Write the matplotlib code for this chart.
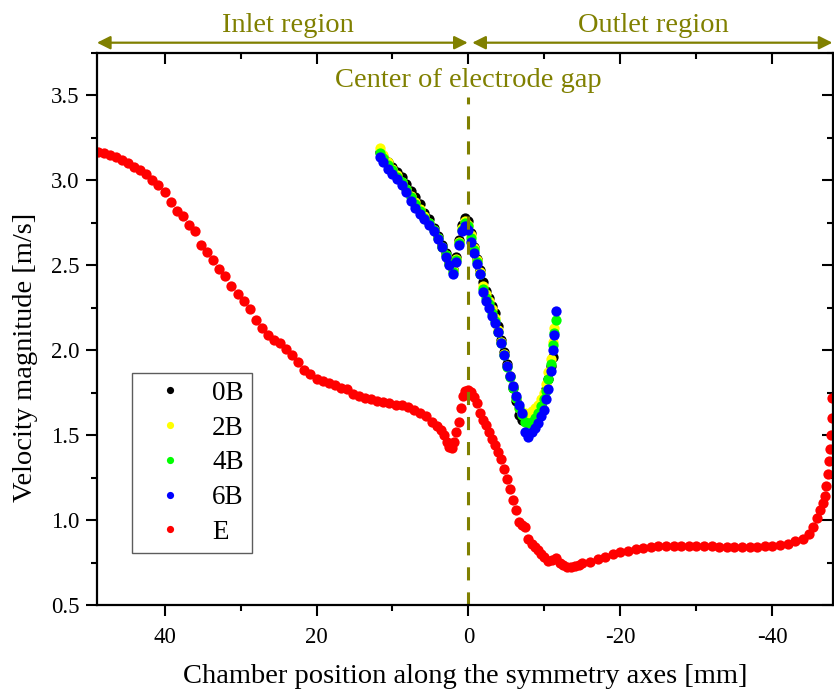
import matplotlib
matplotlib.use("Agg")
import matplotlib.pyplot as plt
from matplotlib.ticker import MultipleLocator

plt.rcParams['font.family'] = ['Liberation Serif', 'DejaVu Serif']

# positions along axis [mm] and velocity magnitude [m/s]
e_x = [48.8, 48.0, 47.2, 46.4, 45.6, 44.8, 44.0, 43.2, 42.4, 41.6,
       40.8, 40.0, 39.2, 38.4, 37.6, 36.8, 36.0, 35.2, 34.4, 33.6,
       32.8, 32.0, 31.2, 30.4, 29.6, 28.8, 28.0, 27.2, 26.4, 25.6,
       24.8, 24.0, 23.2, 22.4, 21.6, 20.8, 20.0, 19.2, 18.4, 17.6,
       16.8, 16.0, 15.2, 14.4, 13.6, 12.8, 12.0, 11.2, 10.4, 9.6,
       8.8, 8.0, 7.2, 6.4, 5.6, 4.8, 4.2, 3.6, 3.2, 2.8,
       2.5, 2.2, 1.9, 1.6, 1.3, 1.0, 0.7, 0.4, 0.1, -0.3,
       -0.7, -1.1, -1.5, -1.9, -2.3, -2.7, -3.1, -3.5, -3.9, -4.3,
       -4.7, -5.1, -5.5, -5.9, -6.3, -6.7, -7.1, -7.5, -7.9, -8.3,
       -8.7, -9.1, -9.5, -10.0, -10.5, -11.0, -11.5, -12.0, -12.5, -13.0,
       -13.5, -14.0, -14.5, -15.0, -16.0, -17.0, -18.0, -19.0, -20.0, -21.0,
       -22.0, -23.0, -24.0, -25.0, -26.0, -27.0, -28.0, -29.0, -30.0, -31.0,
       -32.0, -33.0, -34.0, -35.0, -36.0, -37.0, -38.0, -39.0, -40.0, -41.0,
       -42.0, -43.0, -44.0, -44.8, -45.4, -45.9, -46.3, -46.6, -46.9, -47.1,
       -47.3, -47.4, -47.6, -47.7, -47.8, -47.9]
e_y = [3.17, 3.16, 3.15, 3.135, 3.12, 3.10, 3.08, 3.06, 3.035, 3.005,
       2.97, 2.93, 2.87, 2.82, 2.79, 2.74, 2.70, 2.62, 2.58, 2.53,
       2.48, 2.44, 2.38, 2.33, 2.29, 2.24, 2.18, 2.13, 2.09, 2.06,
       2.04, 2.01, 1.97, 1.93, 1.885, 1.86, 1.83, 1.82, 1.81, 1.796,
       1.78, 1.77, 1.745, 1.73, 1.72, 1.71, 1.70, 1.695, 1.687, 1.68,
       1.675, 1.665, 1.65, 1.63, 1.61, 1.58, 1.555, 1.53, 1.50, 1.46,
       1.43, 1.425, 1.46, 1.52, 1.58, 1.66, 1.73, 1.76, 1.767, 1.755,
       1.725, 1.69, 1.63, 1.59, 1.56, 1.52, 1.48, 1.44, 1.40, 1.36,
       1.30, 1.24, 1.18, 1.12, 1.06, 0.99, 0.97, 0.96, 0.89, 0.86,
       0.84, 0.825, 0.80, 0.78, 0.76, 0.765, 0.775, 0.75, 0.735, 0.726,
       0.725, 0.73, 0.736, 0.745, 0.755, 0.77, 0.785, 0.80, 0.81, 0.818,
       0.828, 0.838, 0.843, 0.846, 0.848, 0.849, 0.849, 0.848, 0.847, 0.846,
       0.845, 0.844, 0.843, 0.842, 0.842, 0.842, 0.843, 0.845, 0.847, 0.853,
       0.862, 0.875, 0.89, 0.92, 0.96, 1.01, 1.06, 1.10, 1.14, 1.20,
       1.27, 1.35, 1.42, 1.50, 1.60, 1.72]

b_x = [11.7, 11.2, 10.6, 10.0, 9.4, 8.8, 8.2, 7.6, 7.0, 6.4, 5.8, 5.2, 4.6, 4.0,
       3.5, 3.0, 2.5, 2.1, 1.7, 1.3, 0.9, 0.5, 0.1, -0.3, -0.7, -1.1, -1.5, -1.9,
       -2.3, -2.7, -3.1, -3.5, -3.9, -4.3, -4.7, -5.1, -5.5, -5.9, -6.3, -6.7,
       -7.1, -7.5, -7.9, -8.3, -8.7, -9.1, -9.5, -9.9, -10.2, -10.5, -10.8, -11.1,
       -11.3, -11.5]

b0_y = [3.17, 3.14, 3.11, 3.08, 3.05, 3.02, 2.98, 2.94, 2.90, 2.86, 2.81, 2.77,
        2.72, 2.67, 2.62, 2.57, 2.52, 2.48, 2.55, 2.65, 2.74, 2.78, 2.76, 2.69,
        2.61, 2.54, 2.47, 2.40, 2.35, 2.31, 2.26, 2.22, 2.14, 2.06, 1.99, 1.92,
        1.85, 1.78, 1.70, 1.62, 1.59, 1.59, 1.60, 1.61, 1.63, 1.65, 1.68, 1.72,
        1.77, 1.83, 1.91, 1.96]
b2_y = [3.19, 3.15, 3.11, 3.07, 3.03, 2.99, 2.95, 2.91, 2.87, 2.83, 2.79, 2.75,
        2.71, 2.66, 2.61, 2.56, 2.51, 2.47, 2.54, 2.64, 2.72, 2.76, 2.74, 2.68,
        2.60, 2.53, 2.46, 2.38, 2.33, 2.29, 2.24, 2.19, 2.12, 2.05, 1.98, 1.91,
        1.85, 1.79, 1.72, 1.66, 1.63, 1.63, 1.62, 1.64, 1.66, 1.68, 1.71, 1.75,
        1.80, 1.87, 1.95, 2.05, 2.13]
b4_y = [3.16, 3.13, 3.09, 3.06, 3.02, 2.99, 2.95, 2.90, 2.86, 2.82, 2.78, 2.75,
        2.71, 2.66, 2.61, 2.56, 2.51, 2.46, 2.53, 2.63, 2.71, 2.75, 2.73, 2.66,
        2.59, 2.52, 2.45, 2.36, 2.31, 2.27, 2.22, 2.17, 2.11, 2.04, 1.97, 1.90,
        1.84, 1.78, 1.72, 1.66, 1.62, 1.58, 1.57, 1.58, 1.60, 1.63, 1.67, 1.71,
        1.76, 1.83, 1.92, 2.03, 2.10, 2.18]
b6_y = [3.14, 3.11, 3.07, 3.04, 3.01, 2.975, 2.93, 2.88, 2.84, 2.80, 2.77, 2.74,
        2.70, 2.655, 2.61, 2.55, 2.50, 2.45, 2.52, 2.62, 2.70, 2.73, 2.71, 2.64,
        2.57, 2.51, 2.45, 2.34, 2.29, 2.25, 2.20, 2.16, 2.11, 2.04, 1.97, 1.91,
        1.85, 1.79, 1.73, 1.68, 1.63, 1.52, 1.49, 1.52, 1.54, 1.57, 1.61, 1.65,
        1.71, 1.77, 1.88, 2.00, 2.09, 2.23]

olive = '#808000'

fig = plt.figure(figsize=(8.34, 6.93), dpi=100)
ax = fig.add_axes([0.1167, 0.127, 0.8823, 0.7965])

ms = 7.4
ax.plot(b_x[:len(b0_y)], b0_y, 'o', color='black', ms=ms, mec='none', label='0B')
ax.plot(b_x[:len(b2_y)], b2_y, 'o', color='#ffff00', ms=ms, mec='none', label='2B')
ax.plot(b_x[:len(b4_y)], b4_y, 'o', color='#00ff00', ms=ms, mec='none', label='4B')
ax.plot(b_x[:len(b6_y)], b6_y, 'o', color='#0000ff', ms=ms, mec='none', label='6B')
ax.plot(e_x, e_y, 'o', color='#ff0000', ms=ms, mec='none', label='E')

ax.set_xlim(48.85, -48.0)
ax.set_ylim(0.5, 3.75)

ax.plot([0, 0], [0.5, 3.49], color=olive, lw=2.2, dashes=(4.3, 3.9))

ax.xaxis.set_major_locator(MultipleLocator(20))
ax.xaxis.set_minor_locator(MultipleLocator(10))
ax.yaxis.set_major_locator(MultipleLocator(0.5))
ax.yaxis.set_minor_locator(MultipleLocator(0.25))
ax.yaxis.set_major_formatter(matplotlib.ticker.FormatStrFormatter('%.1f'))
ax.xaxis.set_major_formatter(matplotlib.ticker.FuncFormatter(lambda v, p: '%d' % v))

for s in ax.spines.values():
    s.set_linewidth(1.6)
ax.tick_params(axis='both', which='major', length=8, width=1.5, labelsize=16.5, pad=5)
ax.tick_params(axis='both', which='minor', length=4.5, width=1.5)
ax.tick_params(axis='x', which='major', pad=7.5)
ax.tick_params(axis='x', which='both', bottom=True, top=True, direction='out')
ax.tick_params(axis='y', which='both', left=True, right=True, direction='out')

# top / right ticks point inward
for t in ax.xaxis.get_major_ticks() + ax.xaxis.get_minor_ticks():
    t.tick2line.set_marker(3)
for t in ax.yaxis.get_major_ticks() + ax.yaxis.get_minor_ticks():
    t.tick2line.set_marker(0)

ax.set_xlabel('Chamber position along the symmetry axes [mm]', fontsize=20.5, labelpad=12)
ax.set_ylabel('Velocity magnitude [m/s]', fontsize=20.5)
ax.yaxis.set_label_coords(-0.081, 0.448)

tr = ax.get_xaxis_transform()
ax.annotate('', xy=(48.9, 1.0187), xytext=(0.1, 1.0187), xycoords=tr, textcoords=tr,
            arrowprops=dict(arrowstyle='<|-|>', color=olive, lw=1.6, mutation_scale=20,
                            shrinkA=0, shrinkB=0), annotation_clip=False)
ax.annotate('', xy=(-0.5, 1.0187), xytext=(-47.9, 1.0187), xycoords=tr, textcoords=tr,
            arrowprops=dict(arrowstyle='<|-|>', color=olive, lw=1.6, mutation_scale=20,
                            shrinkA=0, shrinkB=0), annotation_clip=False)
ax.text(23.7, 1.049, 'Inlet region', transform=tr, ha='center', va='center',
        fontsize=20.5, color=olive, clip_on=False)
ax.text(-24.3, 1.049, 'Outlet region', transform=tr, ha='center', va='center',
        fontsize=20.5, color=olive, clip_on=False)
ax.text(0, 0.951, 'Center of electrode gap', transform=tr, ha='center', va='center',
        fontsize=20.5, color=olive)

leg = ax.legend(loc='upper left', bbox_to_anchor=(0.0475, 0.4208), borderaxespad=0,
                fontsize=19.5, frameon=True, fancybox=False, markerscale=0.7,
                handlelength=2.15, handletextpad=0.5, labelspacing=0.36,
                borderpad=0.3)
leg.get_frame().set_edgecolor('#333333')
leg.get_frame().set_linewidth(1.0)

fig.savefig('out.png', dpi=100)
